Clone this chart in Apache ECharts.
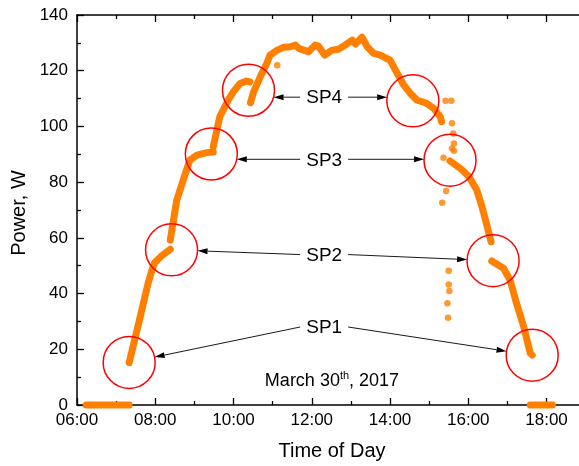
<!DOCTYPE html>
<html>
<head>
<meta charset="utf-8">
<script src="https://cdn.jsdelivr.net/npm/echarts@6/dist/echarts.min.js"></script>
<style>
  html, body { margin: 0; padding: 0; background: #fff; overflow: hidden; }
  #chart { width: 579px; height: 466px; }
</style>
</head>
<body>
<div id="chart"></div>
<script>
// PV module output power on one day: [time of day, power in W]
const idleMorning = [['06:14', 0], ['07:20', 0]];
const rampSeg1 = [['07:20', 15.2], ['07:37', 31.7], ['07:49', 43.7], ['07:55', 48.5], ['07:59', 51.1],
  ['08:10', 53.6], ['08:23', 55.9]];
const rampSeg2 = [['08:23', 59.2], ['08:33', 73.6], ['08:48', 84.4], ['08:53', 87.9], ['09:04', 89.7],
  ['09:19', 90.6], ['09:29', 90.8]];
const rampSeg3 = [['09:29', 92.7], ['09:39', 103.5], ['09:52', 109.5], ['10:00', 112.5], ['10:10', 115.4],
  ['10:20', 116.3], ['10:25', 116.0]];
const plateauSeg = [['10:26', 108.5], ['10:31', 112.5], ['10:41', 117.8], ['10:51', 122.6], ['10:56', 125.6],
  ['11:07', 127.4], ['11:17', 128.4], ['11:27', 128.6], ['11:35', 129.2], ['11:40', 128.0], ['11:50', 127.2],
  ['11:55', 126.8], ['12:05', 129.2], ['12:10', 128.9], ['12:20', 125.6], ['12:31', 127.4], ['12:41', 127.7],
  ['12:51', 129.2], ['13:02', 131.0], ['13:07', 129.6], ['13:17', 132.0], ['13:25', 128.6], ['13:35', 126.2],
  ['13:45', 125.6], ['14:00', 123.8], ['14:11', 119.1], ['14:21', 114.9], ['14:31', 111.9], ['14:41', 109.5],
  ['14:56', 108.3], ['15:07', 106.5], ['15:17', 103.5], ['15:19', 101.7]];
const afternoonSeg = [['15:32', 87.6], ['15:48', 84.9], ['16:01', 82.0], ['16:13', 77.2], ['16:21', 71.2],
  ['16:29', 64.0], ['16:35', 58.6]];
const duskSeg = [['16:36', 51.7], ['16:54', 49.1], ['17:04', 44.9], ['17:14', 36.5], ['17:25', 28.1],
  ['17:35', 18.6], ['17:38', 17.9]];
const idleEvening = [['17:35', 0], ['18:09', 0]];
// isolated readings during passing clouds
const strayReadings = [['11:07', 122.0], ['15:25', 109.2], ['15:34', 109.2], ['15:35', 101.1], ['15:37', 97.5],
  ['15:38', 93.9], ['15:35', 92.1], ['15:38', 91.3], ['15:22', 88.8], ['15:26', 76.8], ['15:20', 72.6],
  ['15:30', 48.2], ['15:30', 43.3], ['15:31', 40.9], ['15:28', 36.5], ['15:29', 31.3]];

// switching points, each marked on the rising and falling side
const switchLabels = ['SP1', 'SP2', 'SP3', 'SP4'];
const risingMarks = [['07:20', 15.3], ['08:25', 55.7], ['09:26', 90.1], ['10:23', 113.0]];
const fallingMarks = [['17:38', 17.9], ['16:38', 51.8], ['15:32', 87.9], ['14:35', 109.2]];
const labelAnchors = [['12:19', 28.0], ['12:19', 54.0], ['12:19', 88.2], ['12:19', 110.5]];
// arrows of the upper two labels run level; the lower two point at the ring centres
const levelArrows = [false, false, true, true];

const xTicks = { min: 6, max: 20, step: 2 };
const yTicks = { min: 0, max: 140, step: 20 };

const FONT = '"Liberation Sans", Arial, Helvetica, sans-serif';
const ORANGE = '#ff8000';

const toHours = t => { const [h, m] = t.split(':').map(Number); return h + m / 60; };
const asPoints = arr => arr.map(([t, v]) => [toHours(t), v]);
const pad2 = n => (n < 10 ? '0' : '') + n;

const chart = echarts.init(document.getElementById('chart'), null, { renderer: 'canvas' });

const lineSeries = (data) => ({
  type: 'line',
  data: asPoints(data),
  showSymbol: false,
  symbol: 'none',
  clip: false,
  silent: true,
  lineStyle: { color: ORANGE, width: 7, cap: 'round', join: 'round' },
  z: 3
});

const axisCommon = {
  type: 'value',
  axisLine: { show: true, onZero: false, lineStyle: { color: '#000', width: 1.5 } },
  axisTick: { show: true, inside: true, length: 7, lineStyle: { color: '#000', width: 1.3 } },
  minorTick: { show: true, splitNumber: 2, length: 4, lineStyle: { color: '#000', width: 1.3 } },
  splitLine: { show: false },
  minorSplitLine: { show: false }
};

// the time axis runs on past the right edge of the canvas (to 20:00)
chart.setOption({
  animation: false,
  backgroundColor: '#fff',
  grid: { left: 77, top: 15, width: 547.8, bottom: 61, containLabel: false, outerBoundsMode: 'none' },
  xAxis: [
    Object.assign({}, axisCommon, {
      position: 'bottom',
      min: xTicks.min, max: xTicks.max, interval: xTicks.step,
      axisLabel: {
        show: true, margin: 7, color: '#000', fontFamily: FONT, fontSize: 17,
        formatter: v => (v <= 18 ? pad2(v) + ':00' : '')
      }
    }),
    Object.assign({}, axisCommon, {
      position: 'top',
      min: xTicks.min, max: xTicks.max, interval: xTicks.step,
      axisLabel: { show: false }
    })
  ],
  yAxis: [
    Object.assign({}, axisCommon, {
      position: 'left',
      min: yTicks.min, max: yTicks.max, interval: yTicks.step,
      axisLabel: { show: true, margin: 9, color: '#000', fontFamily: FONT, fontSize: 17 }
    })
  ],
  series: [
    lineSeries(idleMorning),
    lineSeries(rampSeg1),
    lineSeries(rampSeg2),
    lineSeries(rampSeg3),
    lineSeries(plateauSeg),
    lineSeries(afternoonSeg),
    lineSeries(duskSeg),
    lineSeries(idleEvening),
    {
      type: 'scatter',
      data: asPoints(strayReadings),
      symbol: 'circle',
      symbolSize: 6.5,
      silent: true,
      itemStyle: { color: ORANGE },
      z: 3
    }
  ]
});

// Annotations: red rings around the switching points, arrows from the labels
const toPx = p => chart.convertToPixel({ xAxisIndex: 0, yAxisIndex: 0 }, [toHours(p[0]), p[1]]);
const RING_R = 26;
const graphics = [];

function ring(c) {
  graphics.push({
    type: 'circle', z: 10, silent: true,
    shape: { cx: c[0], cy: c[1], r: RING_R },
    style: { fill: 'none', stroke: '#ff0000', lineWidth: 1.5 }
  });
}

// arrow from a label side to where its ray first meets the ring
function arrow(start, centre, level) {
  let dx = centre[0] - start[0], dy = level ? 0 : centre[1] - start[1];
  const len = Math.hypot(dx, dy);
  dx /= len; dy /= len;
  // solve |start + t*d - centre| = r for the nearest t
  const fx = start[0] - centre[0], fy = start[1] - centre[1];
  const b = fx * dx + fy * dy;
  const c = fx * fx + fy * fy - RING_R * RING_R;
  const t = -b - Math.sqrt(Math.max(0, b * b - c));
  const tip = [start[0] + dx * t, start[1] + dy * t];
  const headLen = 10, headHalf = 3;
  const base = [tip[0] - dx * headLen, tip[1] - dy * headLen];
  const nx = -dy, ny = dx;
  graphics.push({
    type: 'line', z: 10, silent: true,
    shape: { x1: start[0], y1: start[1], x2: base[0], y2: base[1] },
    style: { stroke: '#1a1a1a', lineWidth: 1 }
  });
  graphics.push({
    type: 'polygon', z: 10, silent: true,
    shape: { points: [tip, [base[0] + nx * headHalf, base[1] + ny * headHalf], [base[0] - nx * headHalf, base[1] - ny * headHalf]] },
    style: { fill: '#000' }
  });
}

switchLabels.forEach((name, i) => {
  const a = toPx(labelAnchors[i]);
  const left = toPx(risingMarks[i]);
  const right = toPx(fallingMarks[i]);
  ring(left);
  ring(right);
  arrow([a[0] - 24, a[1]], left, levelArrows[i]);
  arrow([a[0] + 24, a[1]], right, levelArrows[i]);
  graphics.push({
    type: 'text', z: 11, silent: true,
    style: {
      text: name, x: a[0], y: a[1] + 1, align: 'center', verticalAlign: 'middle',
      font: '19px ' + FONT, fill: '#000'
    }
  });
});

// date caption
graphics.push({
  type: 'text', z: 11, silent: true,
  style: {
    text: '{m|March 30}{s|th}{m|, 2017}',
    x: 332, y: 380, align: 'center', verticalAlign: 'middle',
    rich: {
      m: { fontSize: 18, fontFamily: FONT, fill: '#000', lineHeight: 20, verticalAlign: 'bottom' },
      s: { fontSize: 11, fontFamily: FONT, fill: '#000', lineHeight: 20, verticalAlign: 'top' }
    }
  }
});

// axis titles
graphics.push({
  type: 'text', z: 11, silent: true,
  style: { text: 'Time of Day', x: 332, y: 451, align: 'center', verticalAlign: 'middle', font: '20px ' + FONT, fill: '#000' }
});
graphics.push({
  type: 'text', z: 11, silent: true,
  x: 19, y: 213, rotation: Math.PI / 2,
  style: { text: 'Power, W', x: 0, y: 0, align: 'center', verticalAlign: 'middle', font: '20px ' + FONT, fill: '#000' }
});

chart.setOption({ graphic: graphics });
</script>
</body>
</html>
